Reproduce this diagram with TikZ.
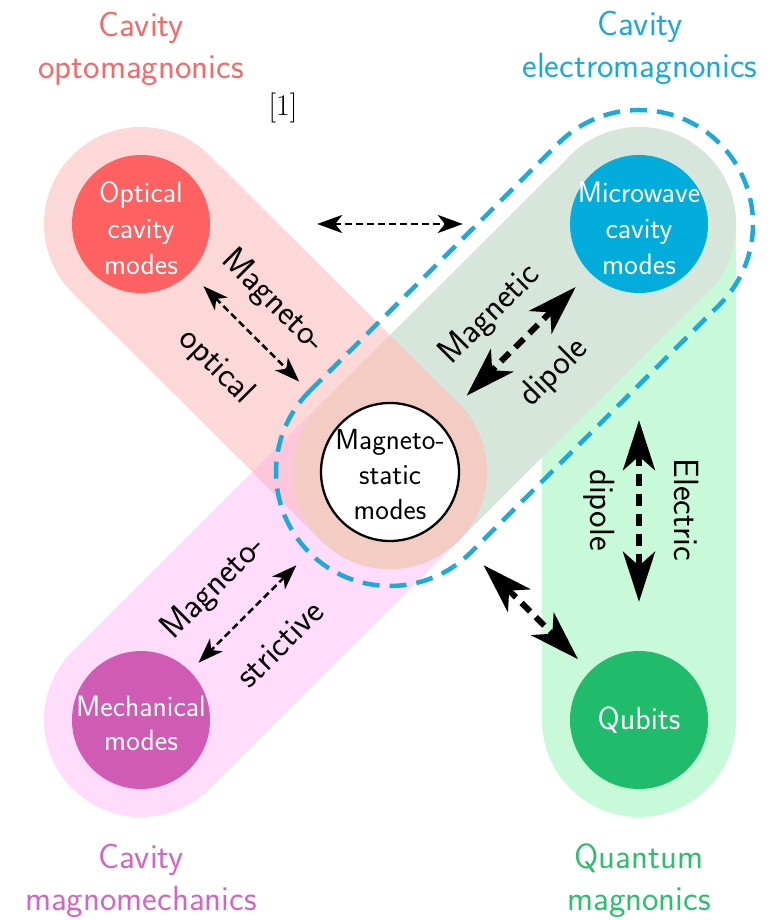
\documentclass[tikz,border=0pt]{standalone}
\usetikzlibrary{arrows.meta,calc}
\definecolor{optred}{HTML}{FE6161}
\definecolor{mwblue}{HTML}{02ACDB}
\definecolor{mechmag}{HTML}{D05BB5}
\definecolor{qubgreen}{HTML}{20BB6B}
\definecolor{redpillc}{HTML}{FDD8D8}
\definecolor{mwpillc}{HTML}{D6E6DB}
\definecolor{greenpillc}{HTML}{C8F9D9}
\definecolor{pinkpillc}{HTML}{FFDCFB}
\definecolor{salmonc}{HTML}{F3CCC3}
\definecolor{redpinkc}{HTML}{FEC6DA}
\definecolor{tred}{HTML}{F46A6A}
\definecolor{tblue}{HTML}{1BA9D9}
\definecolor{tmag}{HTML}{D266C2}
\definecolor{tgreen}{HTML}{2EBE70}
\definecolor{dashblue}{HTML}{1DA9DA}
\newcommand\pillpath[4]{($(#1)+(#3+90:#4)$) -- ($(#2)+(#3+90:#4)$) arc[start angle=#3+90, delta angle=-180, radius=#4] -- ($(#1)+(#3-90:#4)$) arc[start angle=#3-90, delta angle=-180, radius=#4] -- cycle}
\newcommand\ctext[2]{\makebox[0pt]{\raisebox{-#1}[0pt][0pt]{\begin{tabular}{@{}c@{}}#2\end{tabular}}}}
\begin{document}
\begin{tikzpicture}[x=1pt,y=1pt,
  circ/.style={circle, inner sep=0pt, minimum size=138pt, text=white,
    font=\sffamily\fontsize{29.5}{36}\selectfont},
  lbl/.style={font=\sffamily\fontsize{35}{40}\selectfont, inner sep=0pt},
  ttl/.style={font=\sffamily\fontsize{35}{42}\selectfont, align=center, inner sep=0pt},
  dotarrow/.style={line width=2.5pt, dash pattern=on 7pt off 4pt,
    {Stealth[length=25pt,width=18pt,inset=7pt]}-{Stealth[length=25pt,width=18pt,inset=7pt]}},
  bigarrow/.style={line width=6pt, dash pattern=on 12pt off 8pt,
    {Stealth[length=50pt,width=32pt,inset=14pt]}-{Stealth[length=50pt,width=32pt,inset=14pt]}},
  dashline/.style={draw=dashblue, line width=4.5pt, dash pattern=on 17pt off 10pt}
]
\useasboundingbox (0,0) rectangle (783,920);
\coordinate (A) at (141,696);
\coordinate (B) at (639,696);
\coordinate (C) at (390,448);
\coordinate (D) at (141,200);
\coordinate (E) at (639,200);
% pills
\fill[greenpillc] \pillpath{B}{E}{-90}{97pt};
\fill[pinkpillc] \pillpath{D}{C}{45}{97pt};
\fill[mwpillc] \pillpath{C}{B}{45}{97pt};
\fill[redpillc] \pillpath{A}{C}{-45}{97pt};
\begin{scope}
  \clip \pillpath{A}{C}{-45}{97pt};
  \fill[redpinkc] \pillpath{D}{C}{45}{97pt};
  \fill[salmonc] \pillpath{C}{B}{45}{97pt};
\end{scope}
\draw[dashline] \pillpath{C}{B}{45}{114pt};
% circles
\node[circ, fill=optred] (opt) at (A) {\ctext{14pt}{Optical\\cavity\\modes}};
\node[circ, fill=mwblue] (mw) at (B) {\ctext{14pt}{Microwave\\cavity\\modes}};
\node[circ, fill=mechmag, font=\sffamily\fontsize{29.5}{34}\selectfont] (mech) at (D) {\ctext{13pt}{Mechanical\\modes}};
\node[circ, fill=qubgreen, font=\sffamily\fontsize{32}{36}\selectfont] (qub) at (E) {Qubits};
\node[circ, fill=white, draw=black, line width=2.3pt, text=black, font=\sffamily\fontsize{29}{35}\selectfont] (ms) at (C) {\ctext{12pt}{Magneto-\\static\\modes}};
% titles
\node[ttl, text=tred] (t1) at (141,871) {Cavity\\optomagnonics};
\node[ttl, text=tblue] (t2) at (640,872) {Cavity\\electromagnonics};
\node[ttl, text=tmag] (t3) at (141,39) {Cavity\\magnomechanics};
\node[ttl, text=tgreen] (t4) at (639,39) {Quantum\\magnonics};
\node[font=\rmfamily\fontsize{30}{34}\selectfont, inner sep=0pt] (ref) at (283,812) {[1]};
% labels
\node[lbl, rotate=-45] (lmo1) at (273,618) {Magneto-};
\node[lbl, rotate=-45] (lmo2) at (216,553) {optical};
\node[lbl, rotate=45] (lmd1) at (490,605) {Magnetic};
\node[lbl, rotate=45] (lmd2) at (554,547) {dipole};
\node[lbl, rotate=-90] (led1) at (686,410) {Electric};
\node[lbl, rotate=-90] (led2) at (599,410) {dipole};
\node[lbl, rotate=45] (lms1) at (214,332) {Magneto-};
\node[lbl, rotate=45] (lms2) at (280,276) {strictive};
% arrows
\draw[dotarrow, shorten <=107pt, shorten >=107pt] (opt) -- (mw);
\draw[dotarrow, shorten <=19pt, shorten >=58pt] (opt) -- (ms);
\draw[dotarrow, shorten <=62pt, shorten >=12pt] (ms) -- (mech);
\draw[bigarrow, shorten <=20pt, shorten >=38pt] (mw) -- (ms);
\draw[bigarrow, shorten <=127pt, shorten >=49pt] (mw) -- (qub);
\draw[bigarrow, shorten <=62pt, shorten >=17pt] (ms) -- (qub);
\end{tikzpicture}
\end{document}
